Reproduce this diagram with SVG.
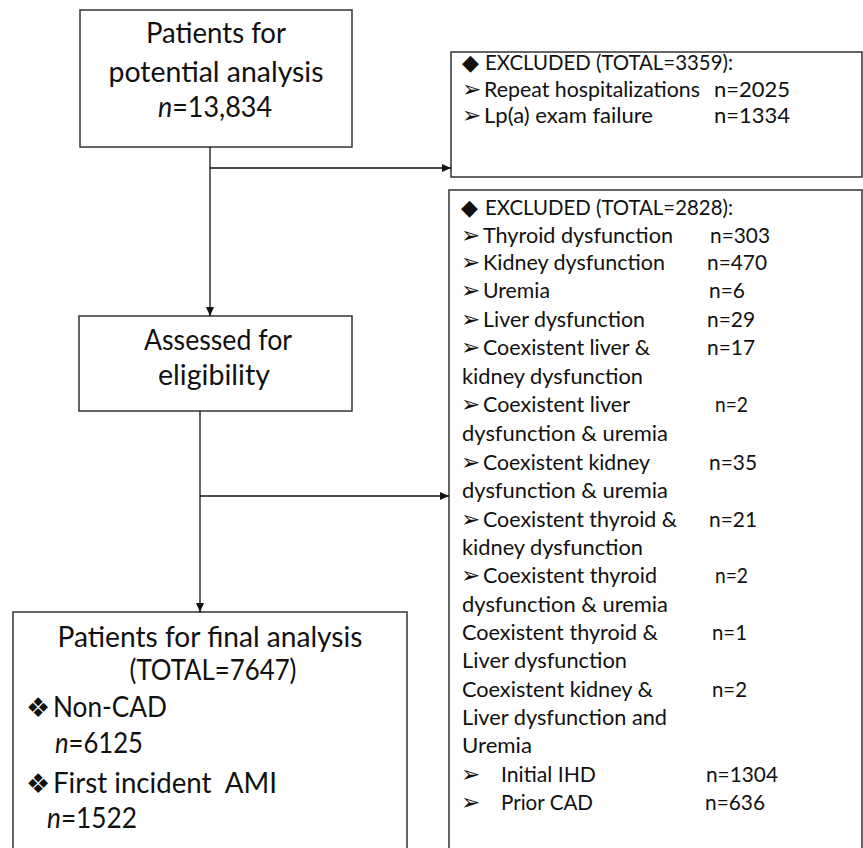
<svg xmlns="http://www.w3.org/2000/svg" width="863" height="848" viewBox="0 0 863 848">
<defs>
<marker id="ah" markerUnits="userSpaceOnUse" markerWidth="10" markerHeight="8" refX="9" refY="4" orient="auto">
<path d="M0,0 L9,4 L0,8 Z" fill="#111"/>
</marker>
<style>
.box{fill:#fff;stroke:#333;stroke-width:1.5}
.con{fill:none;stroke:#111;stroke-width:1.3;marker-end:url(#ah)}
.big{font-family:Lato,"Liberation Sans",sans-serif;font-size:28px;fill:#111}
.sm{font-family:Lato,"Liberation Sans",sans-serif;font-size:22px;fill:#111}
.sm2{font-family:Lato,"Liberation Sans",sans-serif;font-size:22px;fill:#111}
.sym{font-family:"DejaVu Sans",sans-serif;fill:#111}
.ar{font-size:23px}
.dm{font-size:22px}
.c{text-anchor:middle}
</style>
</defs>
<rect width="863" height="848" fill="#fff"/>

<g id="n_potential">
<rect class="box" x="80" y="10" width="272" height="137"/>
<text class="big c" x="216" y="43" textLength="140" lengthAdjust="spacingAndGlyphs">Patients for</text>
<text class="big c" x="216" y="82" textLength="215" lengthAdjust="spacingAndGlyphs">potential analysis</text>
<text class="big c" x="215" y="117" textLength="114" lengthAdjust="spacingAndGlyphs"><tspan font-style="italic">n</tspan>=13,834</text>
</g>

<g id="n_excluded1">
<rect class="box" x="451" y="52" width="411" height="125"/>
<text class="sym dm" x="462" y="70">◆</text>
<text class="sm2" x="485" y="70" textLength="248" lengthAdjust="spacingAndGlyphs">EXCLUDED (TOTAL=3359):</text>
<text class="sym ar" x="462" y="97">➢</text>
<text class="sm2" x="484" y="97" textLength="216" lengthAdjust="spacingAndGlyphs">Repeat hospitalizations</text>
<text class="sm2" x="714" y="97" textLength="76" lengthAdjust="spacingAndGlyphs">n=2025</text>
<text class="sym ar" x="462" y="123">➢</text>
<text class="sm2" x="484" y="123" textLength="169" lengthAdjust="spacingAndGlyphs">Lp(a) exam failure</text>
<text class="sm2" x="714" y="123" textLength="76" lengthAdjust="spacingAndGlyphs">n=1334</text>
</g>

<g id="n_assessed">
<rect class="box" x="79" y="316" width="273" height="95"/>
<text class="big c" x="218" y="350" textLength="148" lengthAdjust="spacingAndGlyphs">Assessed for</text>
<text class="big c" x="214" y="385" textLength="112" lengthAdjust="spacingAndGlyphs">eligibility</text>
</g>

<g id="n_excluded2">
<rect class="box" x="449" y="190" width="413" height="670"/>
<text class="sym dm" x="461" y="215">◆</text>
<text class="sm" x="485" y="215" textLength="248" lengthAdjust="spacingAndGlyphs">EXCLUDED (TOTAL=2828):</text>
<text class="sym ar" x="461" y="243">➢</text>
<text class="sm" x="483" y="243" textLength="190" lengthAdjust="spacingAndGlyphs">Thyroid dysfunction</text>
<text class="sm" x="710" y="243" textLength="60" lengthAdjust="spacingAndGlyphs">n=303</text>
<text class="sym ar" x="461" y="270">➢</text>
<text class="sm" x="483" y="270" textLength="182" lengthAdjust="spacingAndGlyphs">Kidney dysfunction</text>
<text class="sm" x="707" y="270" textLength="60" lengthAdjust="spacingAndGlyphs">n=470</text>
<text class="sym ar" x="461" y="298">➢</text>
<text class="sm" x="483" y="298" textLength="67" lengthAdjust="spacingAndGlyphs">Uremia</text>
<text class="sm" x="709" y="298" textLength="36" lengthAdjust="spacingAndGlyphs">n=6</text>
<text class="sym ar" x="461" y="327">➢</text>
<text class="sm" x="483" y="327" textLength="162" lengthAdjust="spacingAndGlyphs">Liver dysfunction</text>
<text class="sm" x="707" y="327" textLength="48" lengthAdjust="spacingAndGlyphs">n=29</text>
<text class="sym ar" x="461" y="355">➢</text>
<text class="sm" x="483" y="355" textLength="167" lengthAdjust="spacingAndGlyphs">Coexistent liver &amp;</text>
<text class="sm" x="707" y="355" textLength="48" lengthAdjust="spacingAndGlyphs">n=17</text>
<text class="sm" x="462" y="384" textLength="181" lengthAdjust="spacingAndGlyphs">kidney dysfunction</text>
<text class="sym ar" x="461" y="412">➢</text>
<text class="sm" x="483" y="412" textLength="147" lengthAdjust="spacingAndGlyphs">Coexistent liver</text>
<text class="sm" x="715" y="412" textLength="33" lengthAdjust="spacingAndGlyphs">n=2</text>
<text class="sm" x="462" y="441" textLength="206" lengthAdjust="spacingAndGlyphs">dysfunction &amp; uremia</text>
<text class="sym ar" x="461" y="470">➢</text>
<text class="sm" x="483" y="470" textLength="167" lengthAdjust="spacingAndGlyphs">Coexistent kidney</text>
<text class="sm" x="709" y="470" textLength="48" lengthAdjust="spacingAndGlyphs">n=35</text>
<text class="sm" x="462" y="498" textLength="206" lengthAdjust="spacingAndGlyphs">dysfunction &amp; uremia</text>
<text class="sym ar" x="461" y="527">➢</text>
<text class="sm" x="483" y="527" textLength="194" lengthAdjust="spacingAndGlyphs">Coexistent thyroid &amp;</text>
<text class="sm" x="709" y="527" textLength="48" lengthAdjust="spacingAndGlyphs">n=21</text>
<text class="sm" x="462" y="555" textLength="181" lengthAdjust="spacingAndGlyphs">kidney dysfunction</text>
<text class="sym ar" x="461" y="583">➢</text>
<text class="sm" x="483" y="583" textLength="174" lengthAdjust="spacingAndGlyphs">Coexistent thyroid</text>
<text class="sm" x="715" y="583" textLength="33" lengthAdjust="spacingAndGlyphs">n=2</text>
<text class="sm" x="462" y="612" textLength="206" lengthAdjust="spacingAndGlyphs">dysfunction &amp; uremia</text>
<text class="sm" x="462" y="640" textLength="196" lengthAdjust="spacingAndGlyphs">Coexistent thyroid &amp;</text>
<text class="sm" x="712" y="640" textLength="35" lengthAdjust="spacingAndGlyphs">n=1</text>
<text class="sm" x="462" y="668" textLength="165" lengthAdjust="spacingAndGlyphs">Liver dysfunction</text>
<text class="sm" x="462" y="697" textLength="191" lengthAdjust="spacingAndGlyphs">Coexistent kidney &amp;</text>
<text class="sm" x="712" y="697" textLength="35" lengthAdjust="spacingAndGlyphs">n=2</text>
<text class="sm" x="462" y="725" textLength="205" lengthAdjust="spacingAndGlyphs">Liver dysfunction and</text>
<text class="sm" x="462" y="753" textLength="70" lengthAdjust="spacingAndGlyphs">Uremia</text>
<text class="sym ar" x="461" y="782">➢</text>
<text class="sm" x="501" y="782" textLength="95" lengthAdjust="spacingAndGlyphs">Initial IHD</text>
<text class="sm" x="706" y="782" textLength="72" lengthAdjust="spacingAndGlyphs">n=1304</text>
<text class="sym ar" x="461" y="810">➢</text>
<text class="sm" x="501" y="810" textLength="92" lengthAdjust="spacingAndGlyphs">Prior CAD</text>
<text class="sm" x="705" y="810" textLength="60" lengthAdjust="spacingAndGlyphs">n=636</text>
</g>

<g id="n_final">
<rect class="box" x="13" y="612" width="394" height="250"/>
<text class="big c" x="210" y="647" textLength="305" lengthAdjust="spacingAndGlyphs">Patients for final analysis</text>
<text class="big c" x="213" y="680" textLength="167" lengthAdjust="spacingAndGlyphs">(TOTAL=7647)</text>
<text class="sym" x="26" y="717" font-size="27">❖</text>
<text class="big" x="53" y="717" textLength="114" lengthAdjust="spacingAndGlyphs">Non-CAD</text>
<text class="big" x="55" y="753" textLength="88" lengthAdjust="spacingAndGlyphs"><tspan font-style="italic">n</tspan>=6125</text>
<text class="sym" x="26" y="793" font-size="27">❖</text>
<text class="big" x="53" y="793" xml:space="preserve" textLength="224" lengthAdjust="spacingAndGlyphs">First incident  AMI</text>
<text class="big" x="47" y="828" textLength="90" lengthAdjust="spacingAndGlyphs"><tspan font-style="italic">n</tspan>=1522</text>
</g>

<g id="connectors">
<path class="con" d="M210,147 V316"/>
<path class="con" d="M210,168 H451"/>
<path class="con" d="M200,411 V612"/>
<path class="con" d="M200,496 H449"/>
</g>
</svg>
